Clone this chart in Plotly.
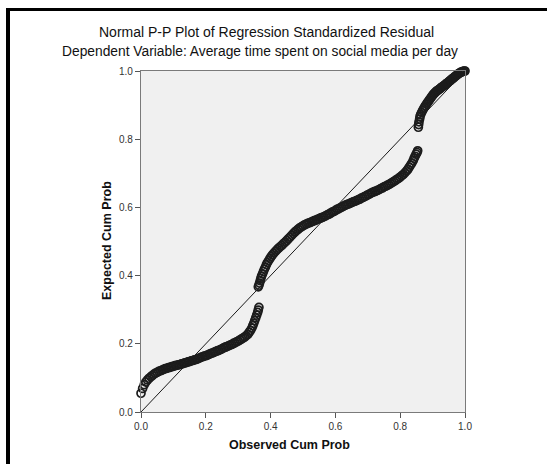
import plotly.graph_objects as go

# Observed cumulative probability (x) and expected cumulative probability (y)
seg1_obs = [0.000, 0.005, 0.010, 0.015, 0.020, 0.025, 0.030, 0.035, 0.040, 0.045, 0.050, 0.055,
            0.060, 0.065, 0.070, 0.075, 0.080, 0.085, 0.090, 0.095, 0.100, 0.105, 0.110, 0.115,
            0.120, 0.125, 0.130, 0.135, 0.140, 0.145, 0.150, 0.155, 0.160, 0.165, 0.170, 0.175,
            0.180, 0.185, 0.190, 0.195, 0.200, 0.205, 0.210, 0.215, 0.220, 0.225, 0.230, 0.235,
            0.240, 0.245, 0.250, 0.255, 0.260, 0.265, 0.270, 0.275, 0.280, 0.285, 0.290, 0.295,
            0.300, 0.305, 0.310, 0.315, 0.320, 0.325, 0.330, 0.334, 0.338, 0.342, 0.345, 0.348,
            0.351, 0.354, 0.357, 0.360, 0.362, 0.364]
seg1_exp = [0.055, 0.069, 0.080, 0.088, 0.094, 0.099, 0.103, 0.107, 0.111, 0.114, 0.116, 0.119,
            0.121, 0.123, 0.125, 0.127, 0.128, 0.130, 0.131, 0.133, 0.134, 0.136, 0.137, 0.138,
            0.139, 0.141, 0.142, 0.144, 0.145, 0.147, 0.148, 0.150, 0.151, 0.153, 0.154, 0.156,
            0.158, 0.160, 0.162, 0.164, 0.165, 0.167, 0.169, 0.171, 0.173, 0.175, 0.177, 0.179,
            0.181, 0.183, 0.185, 0.188, 0.190, 0.192, 0.194, 0.196, 0.198, 0.201, 0.203, 0.206,
            0.208, 0.211, 0.214, 0.217, 0.220, 0.224, 0.228, 0.234, 0.239, 0.246, 0.253, 0.260,
            0.268, 0.276, 0.284, 0.292, 0.299, 0.307]

seg2_obs = [0.362, 0.364, 0.366, 0.368, 0.370, 0.372, 0.375, 0.378, 0.381, 0.384, 0.387, 0.390,
            0.394, 0.398, 0.402, 0.406, 0.410, 0.415, 0.420, 0.425, 0.430, 0.435, 0.440, 0.445,
            0.450, 0.455, 0.460, 0.465, 0.470, 0.475, 0.480, 0.485, 0.490, 0.495, 0.500, 0.505,
            0.510, 0.515, 0.520, 0.525, 0.530, 0.535, 0.540, 0.545, 0.550, 0.555, 0.560, 0.565,
            0.570, 0.575, 0.580, 0.585, 0.590, 0.595, 0.600, 0.605, 0.610, 0.615, 0.620, 0.625,
            0.630, 0.635, 0.640, 0.645, 0.650, 0.655, 0.660, 0.665, 0.670, 0.675, 0.680, 0.685,
            0.690, 0.695, 0.700, 0.705, 0.710, 0.715, 0.720, 0.725, 0.730, 0.735, 0.740, 0.745,
            0.750, 0.755, 0.760, 0.765, 0.770, 0.775, 0.780, 0.785, 0.790, 0.795, 0.800, 0.805,
            0.810, 0.815, 0.820, 0.824, 0.828, 0.832, 0.836, 0.840, 0.843, 0.846, 0.849, 0.852,
            0.854]
seg2_exp = [0.367, 0.372, 0.378, 0.385, 0.392, 0.398, 0.405, 0.412, 0.419, 0.425, 0.432, 0.438,
            0.444, 0.450, 0.456, 0.461, 0.466, 0.471, 0.476, 0.481, 0.485, 0.489, 0.494, 0.498,
            0.503, 0.508, 0.513, 0.518, 0.523, 0.528, 0.532, 0.536, 0.540, 0.543, 0.546, 0.549,
            0.551, 0.553, 0.555, 0.557, 0.559, 0.561, 0.563, 0.565, 0.567, 0.569, 0.571, 0.573,
            0.575, 0.578, 0.580, 0.583, 0.586, 0.588, 0.591, 0.594, 0.596, 0.599, 0.601, 0.604,
            0.606, 0.608, 0.610, 0.612, 0.614, 0.616, 0.618, 0.620, 0.622, 0.624, 0.627, 0.629,
            0.632, 0.634, 0.637, 0.639, 0.642, 0.644, 0.646, 0.648, 0.650, 0.652, 0.655, 0.657,
            0.660, 0.662, 0.665, 0.667, 0.670, 0.673, 0.676, 0.679, 0.682, 0.685, 0.689, 0.693,
            0.697, 0.702, 0.707, 0.712, 0.718, 0.724, 0.730, 0.737, 0.744, 0.750, 0.756, 0.761,
            0.766]

seg3_obs = [0.856, 0.857, 0.858, 0.860, 0.861, 0.863, 0.866, 0.869, 0.872, 0.875, 0.878, 0.881,
            0.884, 0.887, 0.890, 0.893, 0.896, 0.899, 0.902, 0.905, 0.908, 0.911, 0.914, 0.917,
            0.920, 0.923, 0.926, 0.929, 0.932, 0.935, 0.938, 0.941, 0.944, 0.947, 0.950, 0.953,
            0.956, 0.959, 0.962, 0.965, 0.968, 0.971, 0.974, 0.977, 0.980, 0.983, 0.986, 0.989,
            0.992, 0.995, 0.998, 1.000]
seg3_exp = [0.835, 0.843, 0.851, 0.859, 0.866, 0.872, 0.878, 0.884, 0.889, 0.894, 0.898, 0.903,
            0.907, 0.911, 0.915, 0.919, 0.923, 0.927, 0.931, 0.934, 0.937, 0.940, 0.942, 0.944,
            0.946, 0.948, 0.951, 0.953, 0.955, 0.957, 0.959, 0.962, 0.964, 0.966, 0.969, 0.971,
            0.973, 0.976, 0.978, 0.980, 0.983, 0.985, 0.987, 0.990, 0.992, 0.994, 0.996, 0.997,
            0.998, 0.999, 1.000, 1.000]

observed = seg1_obs + seg2_obs + seg3_obs
expected = seg1_exp + seg2_exp + seg3_exp

ref_x = [0.0, 1.0]
ref_y = [0.0, 1.0]

tick_vals = [0.0, 0.2, 0.4, 0.6, 0.8, 1.0]
tick_text = ["0.0", "0.2", "0.4", "0.6", "0.8", "1.0"]

title_1 = "Normal P-P Plot of Regression Standardized Residual"
title_2 = "Dependent Variable: Average time spent on social media per day"
x_title = "Observed Cum Prob"
y_title = "Expected Cum Prob"

FONT = "Liberation Sans, Arial, sans-serif"

fig = go.Figure()
fig.add_trace(go.Scatter(x=ref_x, y=ref_y, mode="lines",
                         line=dict(color="#1a1a1a", width=1), hoverinfo="skip",
                         showlegend=False))
fig.add_trace(go.Scatter(x=observed, y=expected, mode="markers",
                         marker=dict(symbol="circle-open", size=8,
                                     color="#1c1c1c", line=dict(width=1.7, color="#1c1c1c")),
                         cliponaxis=False, showlegend=False))

W, H = 547, 464
L, R, T, B = 141, 82, 71, 52
pw, ph = W - L - R, H - T - B


def px(xp):
    return (xp - L) / pw


def py(yp):
    return (H - B - yp) / ph


axis_common = dict(range=[0, 1], showgrid=False, zeroline=False, showline=True,
                   linecolor="#7a7a7a", linewidth=1.2, mirror=True,
                   ticks="outside", ticklen=5, tickwidth=1, tickcolor="#555555",
                   tickvals=tick_vals, ticktext=tick_text,
                   tickfont=dict(family=FONT, size=10, color="#333333"))

fig.update_layout(
    width=W, height=H,
    margin=dict(l=L, r=R, t=T, b=B, autoexpand=False),
    paper_bgcolor="white", plot_bgcolor="#F0F0F0",
    xaxis=dict(**axis_common),
    yaxis=dict(**axis_common),
    font=dict(family=FONT),
    annotations=[
        dict(text=title_1, x=px(266), y=py(32), xref="paper", yref="paper",
             showarrow=False, font=dict(family=FONT, size=14, color="#111111"),
             xanchor="center", yanchor="middle"),
        dict(text=title_2, x=px(260), y=py(51), xref="paper", yref="paper",
             showarrow=False, font=dict(family=FONT, size=13.8, color="#111111"),
             xanchor="center", yanchor="middle"),
        dict(text="<b>" + x_title + "</b>", x=px(289), y=py(445), xref="paper", yref="paper",
             showarrow=False, font=dict(family=FONT, size=12.5, color="#111111"),
             xanchor="center", yanchor="middle"),
        dict(text="<b>" + y_title + "</b>", x=px(107), y=py(241), xref="paper", yref="paper",
             showarrow=False, textangle=-90, font=dict(family=FONT, size=12.5, color="#111111"),
             xanchor="center", yanchor="middle"),
    ],
    shapes=[
        dict(type="rect", xref="paper", yref="paper", x0=px(6), x1=px(10),
             y0=py(470), y1=py(8), fillcolor="black", line=dict(width=0), layer="above"),
        dict(type="rect", xref="paper", yref="paper", x0=px(6), x1=px(552),
             y0=py(11), y1=py(8), fillcolor="black", line=dict(width=0), layer="above"),
    ],
)

fig.write_html("out.html", config={"displayModeBar": False},
               post_script="document.body.style.margin='0';document.body.style.padding='0';")
